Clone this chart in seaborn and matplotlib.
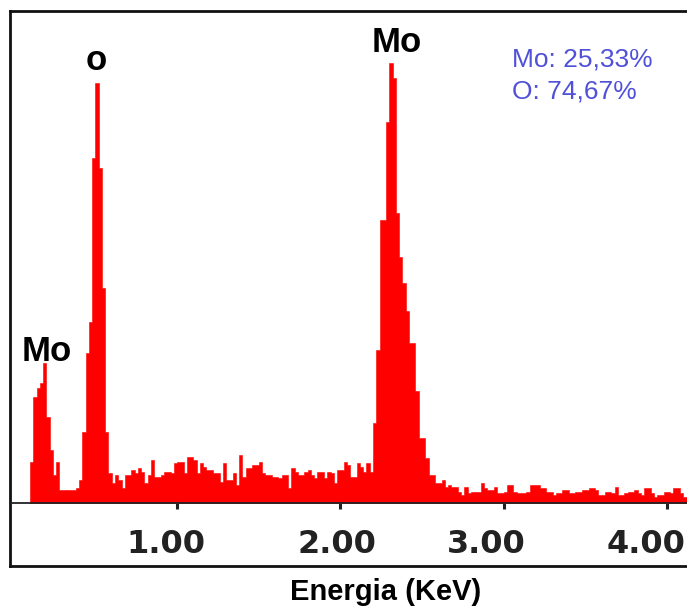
import numpy as np
import pandas as pd
import matplotlib
matplotlib.use("Agg")
import matplotlib.pyplot as plt
import seaborn as sns

# ---- data ----
energy_start = 0.10      # keV, first channel edge
channel_width = 0.02     # keV
counts = [
    41, 106, 115, 120, 140, 86, 53, 28, 41, 13,
    13, 13, 13, 13, 15, 23, 71, 150, 181, 345,
    420, 335, 215, 71, 30, 20, 28, 23, 15, 28,
    28, 33, 30, 35, 31, 20, 28, 43, 26, 26,
    28, 31, 31, 30, 40, 41, 41, 30, 46, 46,
    43, 30, 40, 36, 33, 33, 30, 30, 21, 40,
    23, 23, 30, 18, 48, 26, 35, 35, 38, 38,
    41, 30, 28, 28, 26, 26, 25, 28, 28, 15,
    35, 31, 28, 28, 31, 33, 28, 25, 31, 31,
    25, 31, 30, 20, 33, 33, 41, 38, 26, 26,
    40, 36, 31, 40, 31, 80, 153, 283, 283, 381,
    440, 425, 290, 246, 220, 192, 160, 160, 112, 65,
    65, 45, 28, 28, 20, 20, 23, 16, 18, 16,
    16, 11, 8, 16, 10, 11, 11, 11, 20, 15,
    13, 13, 16, 10, 10, 11, 18, 18, 11, 10,
    10, 10, 11, 18, 18, 18, 15, 15, 11, 11,
    8, 10, 10, 13, 13, 10, 10, 11, 11, 13,
    13, 15, 15, 13, 8, 8, 11, 11, 10, 16,
    8, 8, 10, 11, 11, 13, 10, 8, 15, 15,
    10, 6, 8, 8, 11, 11, 10, 15, 15, 10,
    6,
]
tick_values = [1, 2, 3, 4]
tick_labels = ["1.00", "2.00", "3.00", "4.00"]
tick_label_x = [0.933, 1.980, 2.892, 3.872]   # where the labels sit (keV)
peak_labels = ["Mo", "o", "Mo"]
peak_label_x = [0.204, 0.504, 2.347]      # keV
peak_label_y = [142, 433, 451]            # counts
composition = ["Mo: 25,33%", "O: 74,67%"]
x_label = "Energia (KeV)"

n = len(counts)
edges = [float(energy_start + channel_width * k) for k in range(n + 1)]
centers = [(edges[k] + edges[k + 1]) / 2 for k in range(n)]
df = pd.DataFrame({"energy": centers, "counts": counts})

# ---- figure ----
sns.set_style("white")
W, H = 687, 607
fig = plt.figure(figsize=(W / 100, H / 100), dpi=100)

# outer frame
frame = fig.add_axes([10 / W, (H - 566) / H, 1.0, (566 - 11) / H])
frame.set_xticks([]); frame.set_yticks([])
frame.set_facecolor("white")
for s in ["top", "left", "bottom"]:
    frame.spines[s].set_visible(True)
    frame.spines[s].set_color("#111111")
    frame.spines[s].set_linewidth(2.0)
frame.spines["right"].set_visible(False)

ax = fig.add_axes([10 / W, (H - 503) / H, (W - 10) / W, (503 - 11) / H])
ax.patch.set_alpha(0)
sns.histplot(data=df, x="energy", weights="counts", bins=edges,
             element="step", fill=True, color="#ff0000", alpha=1.0,
             linewidth=0.4, edgecolor="#ff0000", ax=ax)
ax.set_xlim(-0.023, 4.123)
ax.set_ylim(0, 492)
for s in ["top", "left", "right"]:
    ax.spines[s].set_visible(False)
ax.spines["bottom"].set_visible(True)
ax.spines["bottom"].set_color("#222222")
ax.spines["bottom"].set_linewidth(1.3)
ax.set_yticks([])
ax.set_xticks(tick_values)
ax.set_xticklabels([""] * len(tick_values))
ax.tick_params(axis="x", direction="out", length=4.5, width=2.2,
               color="#222222", pad=12, bottom=True)
ax.set_xlabel("")
ax.set_ylabel("")

# tick labels (slightly offset from their ticks, as in the reference)
xt = ax.get_xaxis_transform()
for lab, xv in zip(tick_labels, tick_label_x):
    ax.text(xv, -50 / 492, lab, transform=xt, ha="center", va="baseline",
            fontsize=23, fontweight="bold", color="#222222",
            family="DejaVu Sans", clip_on=False)

for lab, xv, yv in zip(peak_labels, peak_label_x, peak_label_y):
    ax.text(xv, yv, lab, ha="center", va="baseline", fontsize=25,
            fontweight="bold", family="Liberation Sans", color="black")

ax.text(3.051, 436, composition[0], ha="left", va="baseline", fontsize=19,
        family="Liberation Sans", color="#5050d8")
ax.text(3.051, 405, composition[1], ha="left", va="baseline", fontsize=19,
        family="Liberation Sans", color="#5050d8")

fig.text(386 / W, (H - 600) / H, x_label, ha="center", va="baseline",
         fontsize=21, fontweight="bold", family="Liberation Sans", color="black")

fig.savefig("out.png", dpi=100)
